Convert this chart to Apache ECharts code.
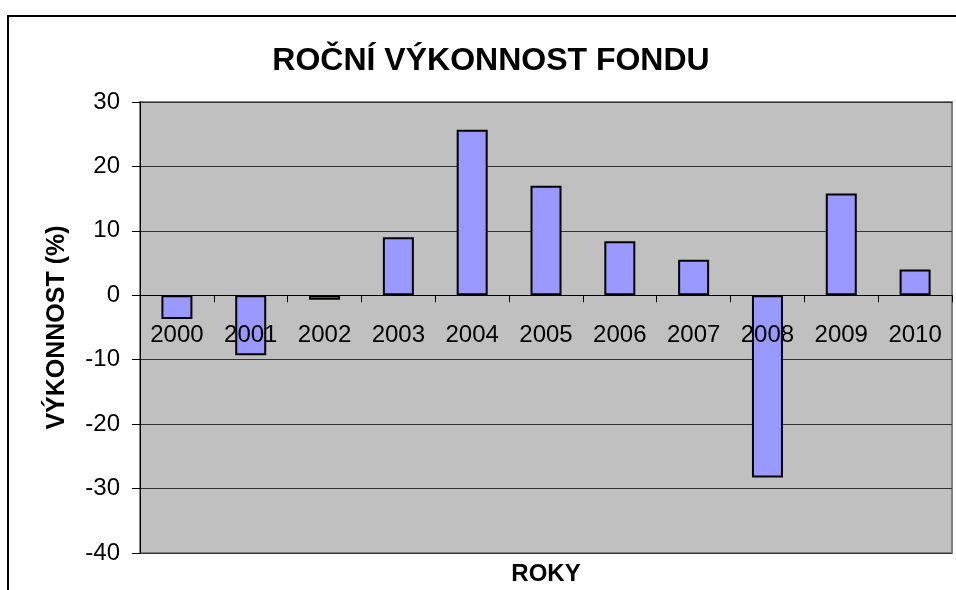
<!DOCTYPE html>
<html>
<head>
<meta charset="utf-8">
<script src="https://cdn.jsdelivr.net/npm/echarts@6/dist/echarts.min.js"></script>
<style>html,body{margin:0;padding:0;background:#fff}#c{width:956px;height:590px}</style>
</head>
<body>
<div id="c"></div>
<script>
var categories = ['2000','2001','2002','2003','2004','2005','2006','2007','2008','2009','2010'];
var values = [-3.7, -9.3, -0.7, 9.0, 25.7, 17.0, 8.4, 5.5, -28.3, 15.8, 4.0];
var yTicks = [-40, -30, -20, -10, 0, 10, 20, 30];

var chart = echarts.init(document.getElementById('c'), null, {renderer: 'canvas'});
var font = '"Liberation Sans", Arial, sans-serif';
chart.setOption({
  animation: false,
  backgroundColor: '#ffffff',
  title: {
    text: 'ROČNÍ VÝKONNOST FONDU',
    left: 486, top: 40, textAlign: 'center',
    textStyle: {fontFamily: font, fontSize: 32, fontWeight: 'bold', color: '#000'}
  },
  graphic: [{
    type: 'rect', z: -1,
    shape: {x: 8, y: 16, width: 1000, height: 700},
    style: {fill: 'none', stroke: '#000', lineWidth: 2}
  }],
  grid: {
    left: 140, right: 4, top: 102, bottom: 37,
    containLabel: false, outerBoundsMode: 'none',
    show: true, backgroundColor: '#c0c0c0', borderColor: '#808080', borderWidth: 2
  },
  xAxis: {
    type: 'category', data: categories, z: 10,
    name: 'ROKY', nameLocation: 'middle', nameGap: 9,
    nameTextStyle: {fontFamily: font, fontSize: 24, fontWeight: 'bold', color: '#000'},
    axisLine: {onZero: true, lineStyle: {color: '#000', width: 1}},
    axisTick: {show: true, interval: 0, length: 7, lineStyle: {color: '#000'}},
    axisLabel: {interval: 0, margin: -230, fontFamily: font, fontSize: 24, color: '#000', hideOverlap: false}
  },
  yAxis: {
    type: 'value', min: yTicks[0], max: yTicks[yTicks.length - 1], interval: 10,
    name: 'VÝKONNOST (%)', nameLocation: 'middle', nameGap: 70,
    nameTextStyle: {fontFamily: font, fontSize: 25, fontWeight: 'bold', color: '#000'},
    axisLine: {show: true, lineStyle: {color: '#000', width: 1}},
    axisTick: {show: true, length: 8, lineStyle: {color: '#000'}},
    axisLabel: {margin: 20, showMinLabel: true, showMaxLabel: true, fontFamily: font, fontSize: 24, color: '#000'},
    splitLine: {show: true, lineStyle: {color: '#333', width: 1}}
  },
  series: [{
    type: 'bar', data: values, barWidth: 31,
    itemStyle: {color: '#9999ff', borderColor: '#000', borderWidth: 2}
  }]
});
</script>
</body>
</html>
